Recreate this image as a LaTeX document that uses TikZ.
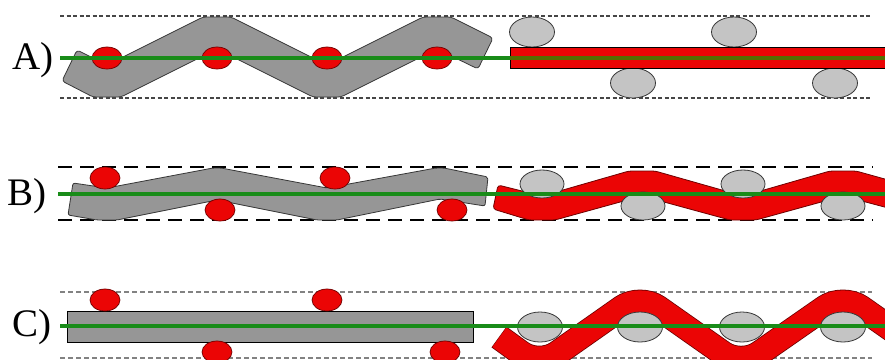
\documentclass[tikz,border=0pt]{standalone}
\usepackage{fontspec}
\setmainfont{Liberation Serif}
\newfontfamily\lblfont{Liberation Serif}
\definecolor{bandgray}{RGB}{150,150,150}
\definecolor{edgegray}{RGB}{55,55,55}
\definecolor{lightg}{RGB}{196,196,196}
\definecolor{redfill}{RGB}{235,5,5}
\definecolor{reddark}{RGB}{110,0,0}
\definecolor{grn}{RGB}{25,140,25}
\definecolor{olivegrn}{RGB}{85,110,0}
\definecolor{dashgray}{RGB}{70,70,70}
\definecolor{dashlight}{RGB}{130,130,130}
\begin{document}
\begin{tikzpicture}[x=1pt,y=-1pt,
  lbl/.style={anchor=base west,inner sep=0pt,font=\lblfont\fontsize{39}{41}\selectfont},
  grayband/.style={fill=bandgray,draw=edgegray,line width=0.8pt,line join=round},
  redband/.style={fill=redfill,draw=reddark,line width=0.8pt,line join=round},
  redell/.style={fill=redfill,draw=reddark,line width=0.7pt},
  grayell/.style={fill=lightg,draw=edgegray,line width=0.8pt},
  greenline/.style={draw=grn,line width=4pt},
  dashA/.style={draw=dashgray,line width=1.2pt,dash pattern=on 4pt off 2.5pt},
  dashB/.style={draw=black,line width=2pt,dash pattern=on 14pt off 8pt},
  dashC/.style={draw=dashlight,line width=1.3pt,dash pattern=on 5pt off 3pt}]
\clip (0,0) rectangle (885,359);
\fill[white] (0,0) rectangle (885,359);

% ---------- Row A ----------
\node[lbl] (labA) at (12,69) {A)};
\draw[dashA] (60,16) -- (872,16);
\draw[dashA] (60,98) -- (872,98);
\draw[grayband,rounded corners=3pt] (62,81) -- (77,50) -- (107,65) -- (203,17) -- (231,17) -- (327,65)
  -- (423,17) -- (451,17) -- (493,38) -- (478,69) -- (437,49) -- (341,97) -- (313,97)
  -- (217,49) -- (121,97) -- (93,97) -- cycle;
\foreach \xx in {107,217,327,437} \draw[redell] (\xx,58) ellipse [x radius=15pt,y radius=11pt];
\foreach \xx in {532,734} \draw[grayell] (\xx,32) ellipse [x radius=22.5pt,y radius=15pt];
\foreach \xx in {633,835} \draw[grayell] (\xx,83) ellipse [x radius=22.5pt,y radius=15pt];
\draw[fill=redfill,draw=black,line width=0.8pt] (510,47) rectangle (890,68);
\draw[greenline] (60,58) -- (510,58);
\draw[draw=olivegrn,line width=4pt] (510,58) -- (886,58);

% ---------- Row B ----------
\node[lbl] (labB) at (7,205) {B)};
\draw[dashB] (58,167) -- (873,167);
\draw[dashB] (58,220) -- (873,220);
\draw[grayband,rounded corners=2pt] (68,215) -- (73,183) -- (107,188) -- (213,168) -- (221,168) -- (327,188)
  -- (436,168) -- (444,168) -- (488,177) -- (485,206) -- (440,199) -- (337,220) -- (317,220)
  -- (217,200) -- (117,220) -- (97,220) -- cycle;
\draw[redell] (105,178) ellipse [x radius=15pt,y radius=11pt];
\draw[redell] (335,178) ellipse [x radius=15pt,y radius=11pt];
\draw[redell] (220,210) ellipse [x radius=15pt,y radius=11pt];
\draw[redell] (452,210) ellipse [x radius=15pt,y radius=11pt];
\draw[redband,rounded corners=3pt] (498,185) -- (542,196) -- (629,171) -- (655,171) -- (743,196)
  -- (830,171) -- (856,171) -- (892,181) -- (892,209) -- (843,196) -- (756,220) -- (730,220)
  -- (642,196) -- (555,220) -- (529,220) -- (493,209) -- cycle;
\foreach \xx in {542,743} \draw[grayell] (\xx,184) ellipse [x radius=22pt,y radius=14pt];
\foreach \xx in {643,843} \draw[grayell] (\xx,206) ellipse [x radius=22pt,y radius=14pt];
\draw[greenline] (58,194) -- (886,194);

% ---------- Row C ----------
\node[lbl] (labC) at (12,336) {C)};
\draw[dashC] (60,292) -- (872,292);
\draw[dashC] (60,358) -- (872,358);
\draw[fill=bandgray,draw=black,line width=0.9pt] (67,311) rectangle (473,342);
\draw[redell] (105,300) ellipse [x radius=15pt,y radius=11pt];
\draw[redell] (327,300) ellipse [x radius=15pt,y radius=11pt];
\draw[redell] (217,352) ellipse [x radius=15pt,y radius=11pt];
\draw[redell] (445,352) ellipse [x radius=15pt,y radius=11pt];
\draw[draw=reddark,line width=25.6pt,line join=round,rounded corners=22pt]
  (499,337) -- (539,366) -- (640,295) -- (741,366) -- (843,295) -- (944,366);
\draw[draw=redfill,line width=24pt,line join=round,rounded corners=22pt]
  (499.4,337.3) -- (539,366) -- (640,295) -- (741,366) -- (843,295) -- (944,366);
\foreach \xx in {540,640,742,843} \draw[grayell] (\xx,327) ellipse [x radius=22.5pt,y radius=15pt];
\draw[greenline] (60,326) -- (886,326);
\end{tikzpicture}
\end{document}
